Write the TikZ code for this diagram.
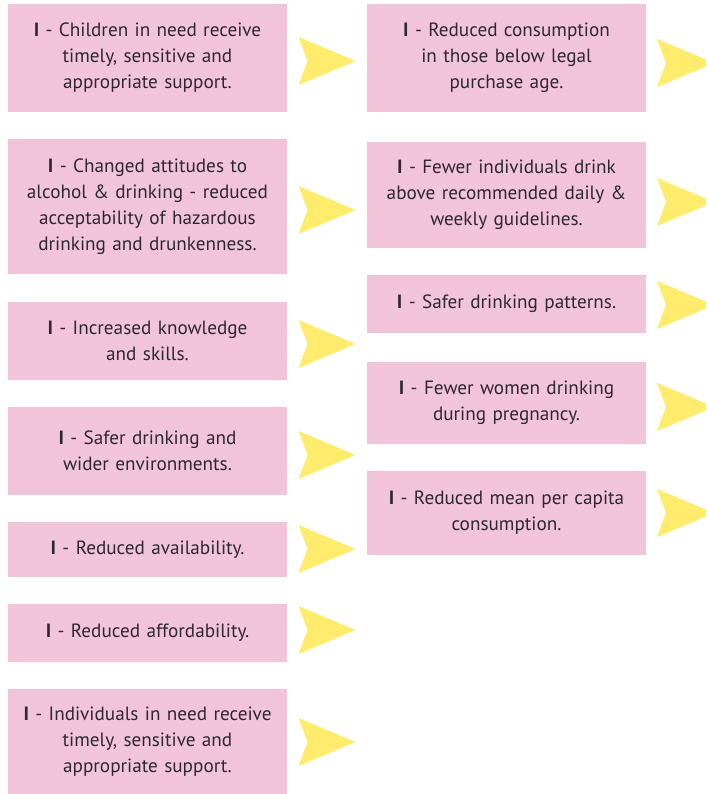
\documentclass[tikz,border=0pt]{standalone}
\usepackage{fontspec}
\setmainfont{PT Sans}
\definecolor{boxpink}{RGB}{242,196,218}
\definecolor{arrowyellow}{RGB}{255,236,108}
\definecolor{txt}{RGB}{45,40,45}
\begin{document}
\begin{tikzpicture}[x=1pt,y=1pt,
  box/.style={fill=boxpink,draw=none,minimum width=279pt,inner sep=0pt,
    text width=275pt,align=center,text=txt,font=\fontsize{19.2}{26}\selectfont},
  pics/chev/.style={code={\fill[arrowyellow] (-28.5,24) -- (28.5,0) -- (-28.5,-24) -- (-19.5,0) -- cycle;}}]
\useasboundingbox (0,0) rectangle (706,-794);
\clip (0,0) rectangle (706,-794);
% left column
\node[box,minimum height=108pt] (l1) at (147.5,-58) {\textbf{I} - Children in need receive\\timely, sensitive and\\appropriate support.};
\node[box,minimum height=135pt] (l2) at (147.5,-206.5) {\textbf{I} - Changed attitudes to\\alcohol \& drinking - reduced\\acceptability of hazardous\\drinking and drunkenness.};
\node[box,minimum height=78pt] (l3) at (147.5,-341) {\textbf{I} - Increased knowledge\\and skills.};
\node[box,minimum height=88pt] (l4) at (147.5,-451) {\textbf{I} - Safer drinking and\\wider environments.};
\node[box,minimum height=55pt] (l5) at (147.5,-549.5) {\textbf{I} - Reduced availability.};
\node[box,minimum height=58pt] (l6) at (147.5,-633) {\textbf{I} - Reduced affordability.};
\node[box,minimum height=106pt] (l7) at (147.5,-742) {\textbf{I} - Individuals in need receive\\timely, sensitive and\\appropriate support.};
% right column
\node[box,minimum height=108pt] (r1) at (506.5,-58) {\textbf{I} - Reduced consumption\\in those below legal\\purchase age.};
\node[box,minimum height=106pt] (r2) at (506.5,-195) {\textbf{I} - Fewer individuals drink\\above recommended daily \&\\weekly guidelines.};
\node[box,minimum height=58pt] (r3) at (506.5,-304) {\textbf{I} - Safer drinking patterns.};
\node[box,minimum height=82pt] (r4) at (506.5,-403) {\textbf{I} - Fewer women drinking\\during pregnancy.};
\node[box,minimum height=84pt] (r5) at (506.5,-513) {\textbf{I} - Reduced mean per capita\\consumption.};
% arrows
\pic at (327,-61) {chev};
\pic at (327,-210) {chev};
\pic at (327,-344) {chev};
\pic at (327,-455) {chev};
\pic at (327,-549) {chev};
\pic at (327,-630) {chev};
\pic at (327,-742) {chev};
\pic at (685.5,-63) {chev};
\pic at (685.5,-202) {chev};
\pic at (685.5,-305) {chev};
\pic at (685.5,-407) {chev};
\pic at (685.5,-513) {chev};
\end{tikzpicture}
\end{document}
